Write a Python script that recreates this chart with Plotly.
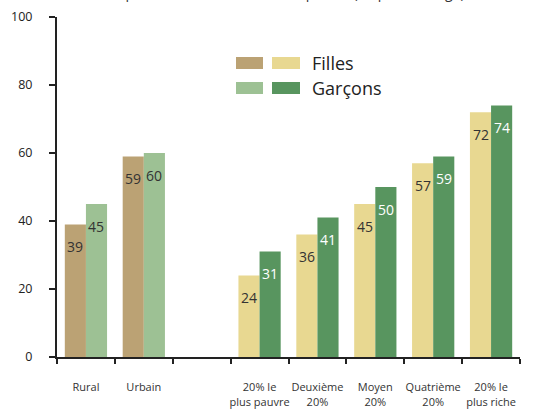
import plotly.graph_objects as go

# data
categories = ["Rural", "Urbain", " ", "20% le<br>plus pauvre", "Deuxième<br>20%",
              "Moyen<br>20%", "Quatrième<br>20%", "20% le<br>plus riche"]
filles = [39, 59, None, 24, 36, 45, 57, 72]
garcons = [45, 60, None, 31, 41, 50, 59, 74]
legend_labels = ["Filles", "Garçons"]
title = "Taux net de fréquentation scolaire, milieu, quintile (en pourcentage)"

# styling
milieu_f, milieu_g = "#BBA274", "#9DC194"
quint_f, quint_g = "#E8D891", "#58955F"
filles_colors = [milieu_f, milieu_f, milieu_f] + [quint_f] * 5
garcons_colors = [milieu_g, milieu_g, milieu_g] + [quint_g] * 5
garcons_text = ["#333333", "#333333", "#333333"] + ["#ffffff"] * 5
FONT = "Open Sans"

W, H = 539, 411
L, R, T, B = 57, 19, 17, 54


def px(x):
    return (x - L) / (W - L - R)


def py(y):
    return (H - B - y) / (H - T - B)


fig = go.Figure()
fig.add_bar(x=categories, y=filles, marker_color=filles_colors, marker_line_width=0,
            name=legend_labels[0])
fig.add_bar(x=categories, y=garcons, marker_color=garcons_colors, marker_line_width=0,
            name=legend_labels[1])

ann = []
for cat, f, g, gc in zip(categories, filles, garcons, garcons_text):
    if f is None:
        continue
    ann.append(dict(x=cat, y=f, text=str(f), xshift=-10.5, yshift=-22, showarrow=False,
                    font=dict(size=14, color="#333333")))
    ann.append(dict(x=cat, y=g, text=str(g), xshift=10.5, yshift=-22, showarrow=False,
                    font=dict(size=14, color=gc)))

# custom legend: two swatches per row
shapes = []
for row, (c1, c2) in enumerate([(milieu_f, quint_f), (milieu_g, quint_g)]):
    y0, y1 = 57 + row * 25, 69 + row * 25
    shapes.append(dict(type="rect", xref="paper", yref="paper", x0=px(236), x1=px(263),
                       y0=py(y1), y1=py(y0), fillcolor=c1, line_width=0))
    shapes.append(dict(type="rect", xref="paper", yref="paper", x0=px(272), x1=px(300),
                       y0=py(y1), y1=py(y0), fillcolor=c2, line_width=0))
    ann.append(dict(xref="paper", yref="paper", x=px(310), y=py(63 + row * 25),
                    xanchor="left", yanchor="middle", text=legend_labels[row],
                    showarrow=False, font=dict(size=18, color="#222222")))

# title, cut off at the top edge as in the reference
ann.append(dict(xref="paper", yref="paper", x=px(20), y=py(4), xanchor="left",
                yanchor="bottom", text=title, showarrow=False,
                font=dict(size=14, color="#333333")))

fig.update_layout(
    width=W, height=H,
    margin=dict(l=L, r=R, t=T, b=B),
    paper_bgcolor="white", plot_bgcolor="white",
    barmode="group", bargap=0.27, bargroupgap=0,
    showlegend=False,
    font=dict(family=FONT, color="#222222"),
    annotations=ann, shapes=shapes,
)
fig.update_xaxes(
    automargin=False, tickangle=0,
    showline=True, linecolor="#222222", linewidth=2,
    ticks="outside", tickson="boundaries", ticklen=5, tickcolor="#222222", tickwidth=2,
    tickfont=dict(size=11, color="#333333"), ticklabelstandoff=19,
    showgrid=False,
)
fig.update_yaxes(
    automargin=False,
    range=[0, 100], tickvals=[0, 20, 40, 60, 80, 100],
    showline=True, linecolor="#222222", linewidth=2,
    ticks="outside", ticklen=6, tickcolor="#222222", tickwidth=2,
    tickfont=dict(size=12.5, color="#222222"), ticklabelstandoff=14,
    showgrid=False, zeroline=False,
)

fig.write_html("out.html", config={"displayModeBar": False},
               post_script="document.body.style.margin='0';")
